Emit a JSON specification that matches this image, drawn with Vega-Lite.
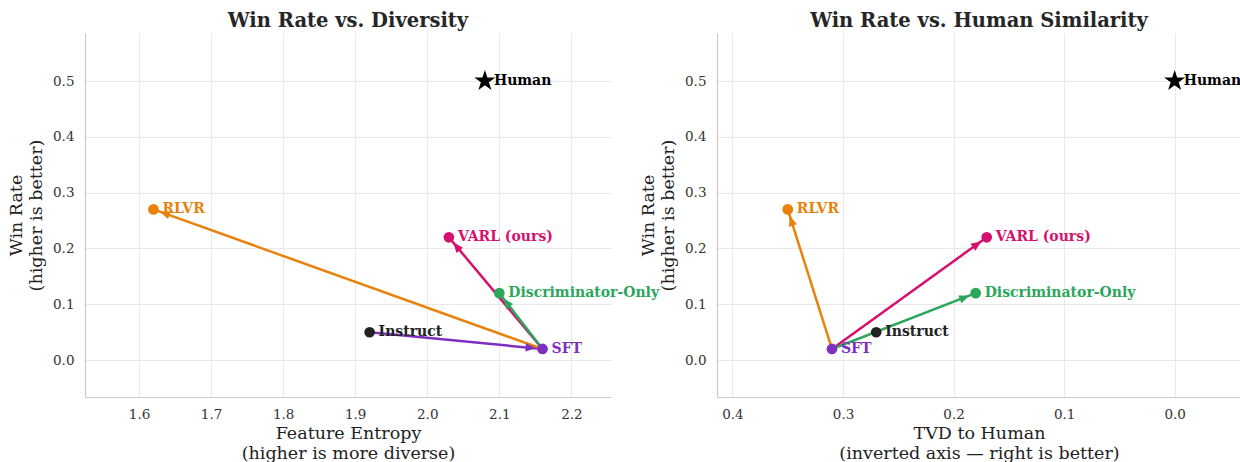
{
  "$schema": "https://vega.github.io/schema/vega-lite/v6.json",
  "padding": {"left": 7, "top": 10, "right": 0, "bottom": 0},
  "background": "white",
  "bounds": "flush",
  "spacing": 106,
  "config": {
    "font": "DejaVu Serif",
    "view": {"stroke": null},
    "axis": {"gridColor": "#e3e3e3", "gridWidth": 0.8, "domainColor": "#cccccc", "domainWidth": 1.2, "ticks": false, "labelFontSize": 13.5, "labelColor": "#333333", "titleFontSize": 17.5, "titleFontWeight": "normal", "titleColor": "#222222", "titleLineHeight": 20},
    "axisX": {"labelPadding": 10, "titlePadding": 4},
    "axisY": {"labelPadding": 11, "titlePadding": 7},
    "title": {"fontSize": 19.5, "fontWeight": "bold", "color": "#262626", "offset": 2}
  },
  "datasets": {
    "pts": [
      {"name": "Human", "entropy": 2.08, "tvd": 0.0, "winrate": 0.5},
      {"name": "RLVR", "entropy": 1.62, "tvd": 0.35, "winrate": 0.27},
      {"name": "VARL (ours)", "entropy": 2.03, "tvd": 0.17, "winrate": 0.22},
      {"name": "Discriminator-Only", "entropy": 2.10, "tvd": 0.18, "winrate": 0.12},
      {"name": "Instruct", "entropy": 1.92, "tvd": 0.27, "winrate": 0.05},
      {"name": "SFT", "entropy": 2.16, "tvd": 0.31, "winrate": 0.02}
    ],
    "arrL": [
      {"dst": "SFT", "x1": 1.92, "y1": 0.05, "x2": 2.16, "y2": 0.02},
      {"dst": "RLVR", "x1": 2.16, "y1": 0.02, "x2": 1.62, "y2": 0.27},
      {"dst": "VARL (ours)", "x1": 2.16, "y1": 0.02, "x2": 2.03, "y2": 0.22},
      {"dst": "Discriminator-Only", "x1": 2.16, "y1": 0.02, "x2": 2.10, "y2": 0.12}
    ],
    "arrR": [
      {"dst": "RLVR", "x1": 0.31, "y1": 0.02, "x2": 0.35, "y2": 0.27},
      {"dst": "VARL (ours)", "x1": 0.31, "y1": 0.02, "x2": 0.17, "y2": 0.22},
      {"dst": "Discriminator-Only", "x1": 0.31, "y1": 0.02, "x2": 0.18, "y2": 0.12}
    ]
  },
  "hconcat": [
    {
      "title": "Win Rate vs. Diversity",
      "width": 526,
      "height": 364,
      "layer": [
        {
          "data": {"name": "arrL"},
          "mark": {"type": "rule", "strokeWidth": 2.5},
          "encoding": {
            "x": {"field": "x1", "type": "quantitative", "scale": {"domain": [1.525, 2.255], "nice": false, "zero": false}, "axis": {"values": [1.6, 1.7, 1.8, 1.9, 2.0, 2.1, 2.2], "format": ".1f", "title": ["Feature Entropy", "(higher is more diverse)"]}},
            "y": {"field": "y1", "type": "quantitative", "scale": {"domain": [-0.066, 0.586], "nice": false, "zero": false}, "axis": {"values": [0, 0.1, 0.2, 0.3, 0.4, 0.5], "format": ".1f", "title": ["Win Rate", "(higher is better)"]}},
            "x2": {"field": "x2"},
            "y2": {"field": "y2"},
            "color": {"field": "dst", "type": "nominal", "legend": null, "scale": {"domain": ["Human", "Instruct", "SFT", "RLVR", "VARL (ours)", "Discriminator-Only"], "range": ["#000000", "#222222", "#7D30C0", "#E8820C", "#D6106E", "#2CA65A"]}}
          }
        },
        {
          "data": {"name": "arrL"},
          "transform": [
            {"calculate": "atan2((datum.x2 - datum.x1) * 720.55, (datum.y2 - datum.y1) * 558.28) * 180 / PI", "as": "ang"}
          ],
          "mark": {"type": "point", "shape": "M0,0.65L0.42,1.7L-0.42,1.7Z", "filled": true, "size": 400, "opacity": 1, "strokeWidth": 0},
          "encoding": {
            "x": {"field": "x2", "type": "quantitative"},
            "y": {"field": "y2", "type": "quantitative"},
            "color": {"field": "dst", "type": "nominal", "legend": null},
            "angle": {"field": "ang", "type": "quantitative", "scale": null}
          }
        },
        {
          "data": {"name": "pts"},
          "transform": [{"filter": "datum.name != 'Human'"}],
          "mark": {"type": "circle", "size": 115, "opacity": 1},
          "encoding": {
            "x": {"field": "entropy", "type": "quantitative"},
            "y": {"field": "winrate", "type": "quantitative"},
            "color": {"field": "name", "type": "nominal", "legend": null}
          }
        },
        {
          "data": {"name": "pts"},
          "transform": [{"filter": "datum.name == 'Human'"}],
          "mark": {"type": "point", "shape": "M0,-1L0.2245,-0.309L0.951,-0.309L0.363,0.118L0.588,0.809L0,0.382L-0.588,0.809L-0.363,0.118L-0.951,-0.309L-0.2245,-0.309Z", "size": 490, "filled": true, "opacity": 1, "color": "#000000", "strokeWidth": 0},
          "encoding": {
            "x": {"field": "entropy", "type": "quantitative"},
            "y": {"field": "winrate", "type": "quantitative"}
          }
        },
        {
          "data": {"name": "pts"},
          "mark": {"type": "text", "align": "left", "baseline": "middle", "dx": 9, "fontSize": 14, "fontWeight": "bold"},
          "encoding": {
            "x": {"field": "entropy", "type": "quantitative"},
            "y": {"field": "winrate", "type": "quantitative"},
            "text": {"field": "name"},
            "color": {"field": "name", "type": "nominal", "legend": null}
          }
        }
      ]
    },
    {
      "title": "Win Rate vs. Human Similarity",
      "width": 524,
      "height": 364,
      "layer": [
        {
          "data": {"name": "arrR"},
          "mark": {"type": "rule", "strokeWidth": 2.5},
          "encoding": {
            "x": {"field": "x1", "type": "quantitative", "scale": {"domain": [-0.06, 0.414], "reverse": true, "nice": false, "zero": false}, "axis": {"values": [0, 0.1, 0.2, 0.3, 0.4], "format": ".1f", "title": ["TVD to Human", "(inverted axis — right is better)"]}},
            "y": {"field": "y1", "type": "quantitative", "scale": {"domain": [-0.066, 0.586], "nice": false, "zero": false}, "axis": {"values": [0, 0.1, 0.2, 0.3, 0.4, 0.5], "format": ".1f", "title": ["Win Rate", "(higher is better)"]}},
            "x2": {"field": "x2"},
            "y2": {"field": "y2"},
            "color": {"field": "dst", "type": "nominal", "legend": null}
          }
        },
        {
          "data": {"name": "arrR"},
          "transform": [
            {"calculate": "atan2(-(datum.x2 - datum.x1) * 1105.49, (datum.y2 - datum.y1) * 558.28) * 180 / PI", "as": "ang"}
          ],
          "mark": {"type": "point", "shape": "M0,0.65L0.42,1.7L-0.42,1.7Z", "filled": true, "size": 400, "opacity": 1, "strokeWidth": 0},
          "encoding": {
            "x": {"field": "x2", "type": "quantitative"},
            "y": {"field": "y2", "type": "quantitative"},
            "color": {"field": "dst", "type": "nominal", "legend": null},
            "angle": {"field": "ang", "type": "quantitative", "scale": null}
          }
        },
        {
          "data": {"name": "pts"},
          "transform": [{"filter": "datum.name != 'Human'"}],
          "mark": {"type": "circle", "size": 115, "opacity": 1},
          "encoding": {
            "x": {"field": "tvd", "type": "quantitative"},
            "y": {"field": "winrate", "type": "quantitative"},
            "color": {"field": "name", "type": "nominal", "legend": null}
          }
        },
        {
          "data": {"name": "pts"},
          "transform": [{"filter": "datum.name == 'Human'"}],
          "mark": {"type": "point", "shape": "M0,-1L0.2245,-0.309L0.951,-0.309L0.363,0.118L0.588,0.809L0,0.382L-0.588,0.809L-0.363,0.118L-0.951,-0.309L-0.2245,-0.309Z", "size": 490, "filled": true, "opacity": 1, "color": "#000000", "strokeWidth": 0},
          "encoding": {
            "x": {"field": "tvd", "type": "quantitative"},
            "y": {"field": "winrate", "type": "quantitative"}
          }
        },
        {
          "data": {"name": "pts"},
          "mark": {"type": "text", "align": "left", "baseline": "middle", "dx": 9, "fontSize": 14, "fontWeight": "bold"},
          "encoding": {
            "x": {"field": "tvd", "type": "quantitative"},
            "y": {"field": "winrate", "type": "quantitative"},
            "text": {"field": "name"},
            "color": {"field": "name", "type": "nominal", "legend": null}
          }
        }
      ]
    }
  ]
}
